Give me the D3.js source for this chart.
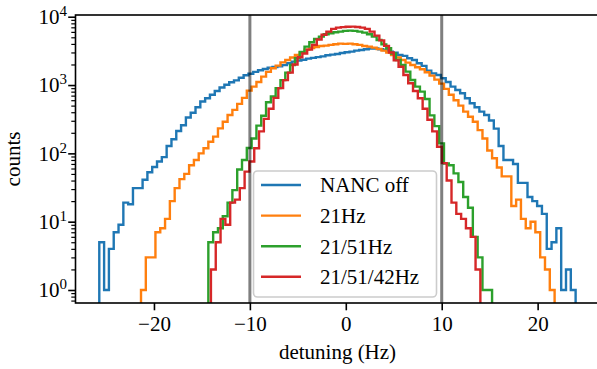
<!DOCTYPE html>
<html>
<head>
<meta charset="utf-8">
<script src="https://cdn.jsdelivr.net/npm/d3@7"></script>
<style>
  body { margin: 0; background: #fff; }
  svg text { font-family: "Liberation Serif", "DejaVu Serif", serif; fill: #000; }
</style>
</head>
<body>
<div id="chart"></div>
<script>
// histogram counts per bin, bins are 0.5 Hz wide
var nancOff = [5, 1, 4, 7, 9, 19, 18, 31, 31, 41,
  53, 63, 76, 88, 128, 161, 213, 258, 335, 394,
  473, 575, 640, 720, 820, 920, 1010, 1100, 1170, 1280,
  1390, 1460, 1560, 1650, 1720, 1790, 1840, 1880, 1960, 2080,
  2200, 2280, 2350, 2440, 2500, 2560, 2630, 2730, 2790, 2850,
  2950, 3020, 3080, 3190, 3265, 3340, 3420, 3420, 3340, 3265,
  3080, 2985, 2755, 2670, 2470, 2330, 2086, 1905, 1625, 1480,
  1405, 1260, 1110, 948, 848, 758, 641, 541, 473, 408,
  365, 302, 230, 128, 80, 80, 70, 37, 37, 23,
  20, 17, 13, 4, 5, 8, 1, 2, 1];
var hz21 = [1, 3, 3, 7, 8, 11, 20, 31, 42, 50,
  67, 80, 100, 119, 148, 176, 232, 290, 365, 433,
  530, 650, 828, 948, 1110, 1327, 1560, 1762, 1925, 2150,
  2330, 2530, 2755, 3000, 3300, 3490, 3610, 3735, 3770, 3870,
  3950, 4040, 4000, 4040, 3950, 3870, 3735, 3650, 3535, 3376,
  3190, 2985, 2755, 2530, 2330, 2130, 1967, 1820, 1700, 1540,
  1374, 1200, 1050, 880, 720, 600, 500, 408, 344, 290,
  219, 165, 110, 85, 62, 46, 46, 17, 21, 11,
  8, 10, 7, 3, 2, 1];
var hz21_51 = [5, 7, 8, 12, 19, 29, 58, 80, 120, 165,
  255, 355, 560, 680, 900, 1180, 1520, 1967, 2470, 3050,
  3650, 4235, 4730, 5115, 5550, 5740, 5935, 6055, 6200, 6265,
  6200, 6055, 5860, 5550, 5115, 4560, 3940, 3450, 2900, 2330,
  1967, 1570, 1188, 948, 800, 626, 360, 250, 140, 71,
  67, 51, 38, 23, 16, 6, 3, 1, 1];
var hz21_51_42 = [2, 5, 11, 9, 19, 21, 31, 54, 76, 119,
  210, 320, 450, 650, 900, 1180, 1520, 2000, 2550, 2900,
  3300, 3870, 4640, 5440, 6055, 6630, 6920, 7050, 7120, 7160,
  7090, 6920, 6630, 6055, 5290, 4500, 3750, 3000, 2300, 1850,
  1400, 1060, 820, 640, 450, 310, 210, 125, 72, 40,
  19, 13, 11, 8, 6, 2];

var seriesNames = ["NANC off", "21Hz", "21/51Hz", "21/51/42Hz"];
var seriesCounts = [nancOff, hz21, hz21_51, hz21_51_42];
// first and last bin edge of each histogram (Hz)
var binStarts = [-25.7, -21.35, -14.33, -14.06];
var binEnds = [23.96, 21.77, 15.25, 14.03];
var markerLines = [-10, 10];
var xTicks = [-20, -10, 0, 10, 20];
var yTickExps = [0, 1, 2, 3, 4];

var colors = ["#1f77b4", "#ff7f0e", "#2ca02c", "#d62728"];

var svgWidth = 597, svgHeight = 369;
var plot = { left: 75.5, right: 599.5, top: 15, bottom: 303 };

var svg = d3.select("#chart").append("svg")
  .attr("width", svgWidth)
  .attr("height", svgHeight);

svg.append("rect").attr("width", svgWidth).attr("height", svgHeight).attr("fill", "#fff");

var x = d3.scaleLinear().domain([-28.18, 26.45]).range([plot.left, plot.right]);
var y = d3.scaleLog().domain([0.645, 10600]).range([plot.bottom, plot.top]);

svg.append("clipPath").attr("id", "clip")
  .append("rect")
  .attr("x", plot.left).attr("y", plot.top)
  .attr("width", plot.right - plot.left).attr("height", plot.bottom - plot.top);

var plotArea = svg.append("g").attr("clip-path", "url(#clip)");

// step histograms
var line = d3.line();
seriesCounts.forEach(function(counts, s) {
  var n = counts.length;
  var w = (binEnds[s] - binStarts[s]) / n;
  var pts = [[x(binStarts[s]), plot.bottom + 10]];
  counts.forEach(function(c, i) {
    pts.push([x(binStarts[s] + i * w), y(c)]);
    pts.push([x(binStarts[s] + (i + 1) * w), y(c)]);
  });
  pts.push([x(binEnds[s]), plot.bottom + 10]);
  plotArea.append("path")
    .attr("d", line(pts))
    .attr("fill", "none")
    .attr("stroke", colors[s])
    .attr("stroke-width", 2.4)
    .attr("stroke-linejoin", "miter");
});

// vertical markers
plotArea.selectAll(".vline")
  .data(markerLines)
  .enter()
  .append("line")
  .attr("x1", d => x(d)).attr("x2", d => x(d))
  .attr("y1", plot.top).attr("y2", plot.bottom)
  .attr("stroke", "#000")
  .attr("stroke-opacity", 0.5)
  .attr("stroke-width", 3);

// x axis
var xAxis = svg.append("g")
  .attr("transform", `translate(0, ${plot.bottom})`)
  .call(d3.axisBottom(x).tickValues(xTicks).tickSize(7.3).tickPadding(6));
xAxis.select(".domain").remove();
xAxis.selectAll("line").attr("stroke-width", 1.6);
xAxis.selectAll("text").attr("font-size", "21px").attr("dy", "0.72em");

// y axis major and minor ticks
var majors = yTickExps.map(e => Math.pow(10, e));
var minors = [];
[-1, 0, 1, 2, 3].forEach(function(e) {
  for (var m = 2; m <= 9; m++) {
    var v = m * Math.pow(10, e);
    if (v > y.domain()[0] && v < y.domain()[1]) minors.push(v);
  }
});
var yAxis = svg.append("g")
  .attr("transform", `translate(${plot.left}, 0)`)
  .call(d3.axisLeft(y).tickValues(majors).tickSize(7.3).tickFormat(""));
yAxis.select(".domain").remove();
yAxis.selectAll("line").attr("stroke-width", 1.6);
var yMinor = svg.append("g")
  .attr("transform", `translate(${plot.left}, 0)`)
  .call(d3.axisLeft(y).tickValues(minors).tickSize(4.2).tickFormat(""));
yMinor.select(".domain").remove();
yMinor.selectAll("line").attr("stroke-width", 1.2);

// y tick labels as 10^n
yTickExps.forEach(function(e) {
  var t = svg.append("text")
    .attr("x", 67)
    .attr("y", y(Math.pow(10, e)) + 7.3)
    .attr("text-anchor", "end")
    .attr("font-size", "21px");
  t.append("tspan").text("10");
  t.append("tspan").attr("dy", -8).attr("font-size", "15px").text(e);
});

// frame
svg.append("rect")
  .attr("x", plot.left).attr("y", plot.top)
  .attr("width", plot.right - plot.left).attr("height", plot.bottom - plot.top)
  .attr("fill", "none").attr("stroke", "#000").attr("stroke-width", 1.6);

// axis labels
svg.append("text")
  .attr("x", (plot.left + plot.right) / 2)
  .attr("y", 359)
  .attr("text-anchor", "middle")
  .attr("font-size", "21px")
  .text("detuning (Hz)");
svg.append("text")
  .attr("transform", `translate(20, ${(plot.top + plot.bottom) / 2}) rotate(-90)`)
  .attr("text-anchor", "middle")
  .attr("font-size", "21px")
  .text("counts");

// legend
var legend = svg.append("g");
legend.append("rect")
  .attr("x", 253.5).attr("y", 171)
  .attr("width", 183).attr("height", 126)
  .attr("rx", 4)
  .attr("fill", "#fff").attr("fill-opacity", 0.8)
  .attr("stroke", "#ccc").attr("stroke-width", 1.6);
seriesNames.forEach(function(name, i) {
  var cy = 185 + i * 30.6;
  legend.append("line")
    .attr("x1", 261).attr("x2", 301)
    .attr("y1", cy).attr("y2", cy)
    .attr("stroke", colors[i]).attr("stroke-width", 2.4);
  legend.append("text")
    .attr("x", 320).attr("y", cy + 7.3)
    .attr("font-size", "21px")
    .text(name);
});
</script>
</body>
</html>
